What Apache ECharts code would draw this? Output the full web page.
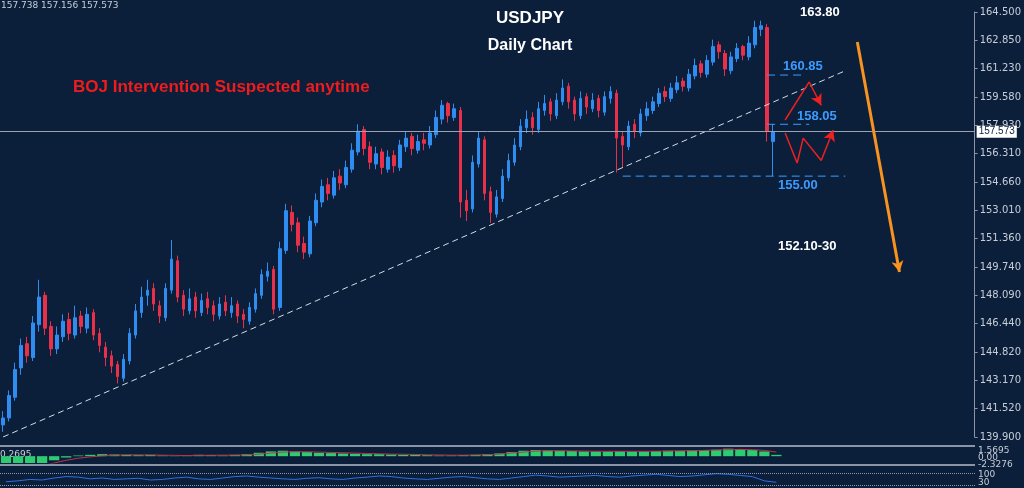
<!DOCTYPE html>
<html><head><meta charset="utf-8">
<script src="https://cdn.jsdelivr.net/npm/echarts@6/dist/echarts.min.js"></script>
<style>html,body{margin:0;padding:0;background:#0b1f3b}#c{width:1024px;height:488px}</style>
</head><body><div id="c"></div>
<script>
// [open, close, low, high]
const candles = [
[140.6,141.0,140.2,141.4],[141.0,142.3,140.8,142.6],[142.2,143.8,142.0,144.2],[143.9,145.2,143.5,145.6],[145.3,144.6,144.2,145.7],
[144.5,146.5,144.3,146.9],[146.4,148.0,146.0,149.0],[148.1,146.2,145.8,148.3],[146.3,145.0,144.6,146.6],[145.0,145.8,144.7,146.3],
[145.7,146.6,145.4,147.0],[146.7,145.9,145.5,147.1],[145.8,146.8,145.6,147.5],[146.9,146.3,145.9,147.2],[146.2,147.0,145.9,147.4],
[147.1,145.8,145.5,147.3],[145.9,145.2,144.8,146.2],[145.1,144.5,144.0,145.4],[144.6,144.0,143.6,144.9],[144.1,143.4,143.0,144.3],
[143.3,144.4,143.1,144.7],[144.3,145.9,144.1,146.2],[145.8,147.2,145.6,147.6],[147.1,148.0,146.8,148.6],[148.1,148.4,147.5,149.0],
[148.5,147.6,147.2,148.8],[147.5,146.9,146.5,147.8],[146.8,148.5,146.6,148.8],[148.4,150.2,148.2,151.3],[150.1,148.0,147.7,150.4],
[148.1,147.3,146.9,148.4],[147.2,147.9,147.0,148.5],[148.0,147.2,146.8,148.3],[147.1,147.8,146.9,148.2],[147.9,147.4,147.0,148.3],
[147.5,147.0,146.6,147.8],[146.9,147.6,146.7,148.0],[147.7,147.2,146.9,148.1],[147.1,147.5,146.8,148.0],[147.6,146.9,146.5,147.8],
[147.0,146.7,146.2,147.3],[146.6,147.4,146.4,147.7],[147.3,148.2,147.1,148.5],[148.1,149.3,147.9,149.6],[149.2,149.5,148.9,150.0],
[149.6,147.3,147.0,149.8],[147.4,150.8,147.2,151.2],[150.7,153.0,150.5,153.4],[152.9,152.2,151.8,153.3],[152.3,151.0,150.6,152.6],
[151.1,150.6,150.2,151.5],[150.5,152.4,150.3,152.7],[152.3,153.6,152.1,154.0],[153.5,154.4,153.2,154.8],[154.5,154.0,153.6,154.9],
[153.9,154.9,153.7,155.3],[155.0,154.6,154.2,155.4],[154.5,155.5,154.3,155.9],[155.4,156.5,155.2,156.9],[156.4,157.6,156.2,158.0],
[157.7,156.6,156.2,157.9],[156.7,155.8,155.4,157.0],[155.7,156.3,155.4,156.7],[156.4,155.5,155.1,156.6],[155.4,156.1,155.2,156.5],
[156.2,155.6,155.2,156.5],[155.5,156.8,155.3,157.1],[156.7,157.2,156.4,157.6],[157.3,156.6,156.2,157.5],[156.5,157.0,156.3,157.4],
[157.1,156.9,156.5,157.5],[156.8,157.5,156.6,157.9],[157.4,158.4,157.2,158.8],[158.3,159.1,158.0,159.4],[159.2,158.5,158.1,159.3],
[158.4,158.9,158.2,159.2],[158.8,153.5,152.6,159.0],[153.6,153.0,152.4,154.2],[153.1,155.8,152.9,156.2],[155.7,157.2,155.5,157.6],
[157.1,154.0,153.6,157.3],[154.1,152.9,152.3,154.4],[152.8,153.8,152.6,154.2],[153.7,155.0,153.5,155.4],[154.9,155.9,154.7,156.3],
[155.8,156.8,155.6,157.2],[156.7,157.9,156.5,158.3],[157.8,158.3,157.5,158.8],[158.4,157.8,157.4,158.7],[157.7,158.9,157.5,159.3],
[158.8,159.2,158.5,159.7],[159.3,158.6,158.2,159.5],[158.5,159.4,158.3,159.8],[159.3,160.1,159.1,160.6],[160.2,159.3,158.9,160.4],
[159.4,158.6,158.2,159.6],[158.5,159.5,158.3,159.9],[159.6,159.0,158.6,159.8],[158.9,159.4,158.7,159.8],[159.5,158.8,158.4,159.7],
[158.7,159.6,158.5,159.9],[159.5,159.9,159.2,160.2],[159.8,157.2,155.2,160.0],[157.3,156.8,155.5,157.6],[156.7,157.9,156.5,158.2],
[158.0,157.6,157.2,158.3],[157.5,158.6,157.3,158.9],[158.5,158.9,158.2,159.3],[158.8,159.3,158.6,159.6],[159.2,159.8,159.0,160.1],
[159.9,159.6,159.3,160.2],[159.5,160.1,159.3,160.4],[160.0,160.4,159.8,160.8],[160.5,160.2,159.9,160.7],[160.1,160.9,159.9,161.2],
[160.8,161.4,160.6,161.8],[161.5,161.0,160.7,161.7],[160.9,161.7,160.7,162.0],[161.6,162.5,161.4,162.9],[162.6,162.2,161.8,162.8],
[162.1,161.2,160.8,162.3],[161.1,161.9,160.9,162.2],[161.8,162.4,161.6,162.7],[162.5,162.0,161.7,162.6],[161.9,162.7,161.7,163.1],
[162.6,163.6,162.4,164.0],[163.5,163.7,163.1,164.0],[163.6,157.6,157.0,163.8],[157.0,157.573,155.0,158.0]
];
const totalSlots = 162;
const tickLabels = ['139.900','141.520','143.170','144.820','146.440','148.090','149.740','151.360','153.010','154.660','156.310','157.930','159.580','161.230','162.850','164.500'];
const lastPrice = 157.573;
const trendLine = [[0,139.9],[140,161.1]];
const upPath = [[130.3,158.25],[133.7,160.45],[136.2,159.1]];
const downPath = [[129.7,157.5],[131.5,155.76],[133.3,157.2],[135.8,155.9],[137.8,157.67]];
const orangeArrow = [[142,162.76],[149,149.45]];
const levels = [{v:160.85,from:127,to:133},{v:158.0,from:127,to:133.5},{v:155.0,from:103,to:140}];
const histVals = [-2.0,-1.8,-1.4,-1.0,-0.6,-0.2,0.1,0.2,0.3,0.25,0.2,0.15,0.2,0.1,0.05,0.1,0.2,0.15,0.1,0.2,0.3,0.5,0.7,0.8,0.7,0.6,0.5,0.45,0.4,0.35,0.3,0.3,0.25,0.2,0.2,0.15,0.1,0.1,0.15,0.2,0.3,0.4,0.6,0.8,0.9,0.85,0.8,0.75,0.7,0.7,0.7,0.75,0.7,0.7,0.75,0.8,0.8,0.85,0.9,0.95,1.1,1.05,0.9,0.7,0.2];
const sigVals = [-1.9,-1.85,-1.7,-1.4,-1.0,-0.6,-0.3,-0.1,0.05,0.15,0.2,0.2,0.18,0.15,0.12,0.1,0.12,0.14,0.15,0.15,0.2,0.3,0.45,0.6,0.65,0.65,0.6,0.55,0.5,0.45,0.4,0.35,0.3,0.28,0.25,0.2,0.18,0.15,0.15,0.18,0.22,0.3,0.45,0.6,0.75,0.8,0.8,0.78,0.75,0.72,0.72,0.72,0.72,0.72,0.73,0.75,0.78,0.8,0.85,0.9,0.95,1.0,0.95,0.85,0.6];
const rsiVals = [42,45,50,48,55,60,58,52,55,50,52,54,48,50,55,58,52,50,55,60,62,58,55,52,50,54,56,52,50,55,58,62,60,55,52,50,54,58,60,56,52,50,55,60,65,62,58,60,62,64,60,58,62,65,68,64,60,62,66,70,68,64,60,45,40];

const cats = Array.from({length: totalSlots}, (_, i) => String(i));
const subCats = Array.from({length: 81}, (_, i) => String(i));
const chart = echarts.init(document.getElementById('c'));
const blue = '#3d9bff', up = '#2f8cf0', down = '#e8304a';
const arrowLine = (pts, color, w) => ({type:'line', data:pts.slice(0,-1), symbol:'none', lineStyle:{color, width:w}, silent:true,
  markLine:{silent:true, symbol:['none','arrow'], symbolSize:[9,11], lineStyle:{color, width:w, type:'solid'}, label:{show:false},
    data:[[{coord:pts[pts.length-2]},{coord:pts[pts.length-1]}]]}});
chart.setOption({
  backgroundColor:'#0b1f3b',
  animation:false,
  grid:[
    {left:0,right:49,top:12,bottom:51},
    {left:0,right:49,top:448,height:15,show:false},
    {left:0,right:49,top:468,height:20,show:false}
  ],
  xAxis:[
    {type:'category',data:cats,gridIndex:0,boundaryGap:true,show:false},
    {type:'category',data:subCats,gridIndex:1,show:false},
    {type:'category',data:subCats,gridIndex:2,show:false}
  ],
  yAxis:[
    {type:'value',gridIndex:0,position:'right',min:139.9,max:164.5,interval:1.64,
     axisLine:{show:true,lineStyle:{color:'#8a94a6'}},axisTick:{show:true,length:3,lineStyle:{color:'#8a94a6'}},
     splitLine:{show:false},axisLabel:{color:'#c8cdd6',fontSize:10,fontFamily:'DejaVu Sans',margin:5,formatter:(v,i)=>tickLabels[i]}},
    {type:'value',gridIndex:1,position:'right',min:-1.0,max:1.2,show:false},
    {type:'value',gridIndex:2,position:'right',min:20,max:90,show:false}
  ],
  series:[
    {type:'candlestick',data:candles,barWidth:3,xAxisIndex:0,yAxisIndex:0,
     itemStyle:{color:up,color0:down,borderColor:up,borderColor0:down,borderWidth:1},
     markLine:{silent:true,symbol:'none',data:[{yAxis:lastPrice}],lineStyle:{color:'#9aa3b2',type:'solid',width:1},
       label:{position:'end',formatter:'157.573',color:'#0b1f3b',backgroundColor:'#ffffff',fontSize:10,padding:[1,2],distance:2}}},
    {type:'line',data:trendLine,symbol:'none',lineStyle:{color:'#d8dce4',width:1,type:[6,4]},silent:true},
    ...levels.map(l=>({type:'line',data:[[l.from,l.v],[l.to,l.v]],symbol:'none',lineStyle:{color:blue,width:1,type:[8,5]},silent:true})),
    arrowLine(upPath,'#ee2020',1.5),
    arrowLine(downPath,'#ee2020',1.5),
    arrowLine(orangeArrow,'#f7931e',3),
    {type:'bar',data:histVals,xAxisIndex:1,yAxisIndex:1,barCategoryGap:'15%',itemStyle:{color:'#2ecc71'}},
    {type:'line',data:sigVals,xAxisIndex:1,yAxisIndex:1,symbol:'none',lineStyle:{color:'#c0304a',width:1}},
    {type:'line',data:rsiVals,xAxisIndex:2,yAxisIndex:2,symbol:'none',lineStyle:{color:'#2f6fe0',width:1},
     markLine:{silent:true,symbol:'none',label:{show:false},lineStyle:{color:'#8a94a6',type:'dotted'},data:[{yAxis:70},{yAxis:30}]}}
  ],
  graphic:[
    {type:'line',shape:{x1:0,y1:446,x2:975,y2:446},style:{stroke:'#8a94a6',lineWidth:2}},
    {type:'line',shape:{x1:0,y1:465,x2:975,y2:465},style:{stroke:'#8a94a6',lineWidth:2}},
    {type:'text',left:1,top:1,style:{text:'157.738 157.156 157.573',fill:'#c8cdd6',font:'9px DejaVu Sans'}},
    {type:'text',left:0,top:450,style:{text:'0.2695',fill:'#c8cdd6',font:'9px DejaVu Sans'}},
    {type:'text',left:978,top:446,style:{text:'1.5695\n0.00\n-2.3276',fill:'#c8cdd6',font:'9px DejaVu Sans',lineHeight:7}},
    {type:'text',left:978,top:470,style:{text:'100\n30',fill:'#c8cdd6',font:'9px DejaVu Sans',lineHeight:8}},
    {type:'text',x:530,y:18,style:{text:'USDJPY',fill:'#ffffff',font:'bold 17px Liberation Sans',align:'center',verticalAlign:'middle'}},
    {type:'text',x:530,y:46,style:{text:'Daily Chart',fill:'#ffffff',font:'bold 16px Liberation Sans',align:'center',verticalAlign:'middle'}},
    {type:'text',x:73,y:87,style:{text:'BOJ Intervention Suspected anytime',fill:'#ee1c1c',font:'bold 17px Liberation Sans',verticalAlign:'middle'}},
    {type:'text',x:800,y:12,style:{text:'163.80',fill:'#ffffff',font:'bold 13px Liberation Sans',verticalAlign:'middle'}},
    {type:'text',x:783,y:66,style:{text:'160.85',fill:blue,font:'bold 13px Liberation Sans',verticalAlign:'middle'}},
    {type:'text',x:797,y:116,style:{text:'158.05',fill:blue,font:'bold 13px Liberation Sans',verticalAlign:'middle'}},
    {type:'text',x:778,y:185,style:{text:'155.00',fill:blue,font:'bold 13px Liberation Sans',verticalAlign:'middle'}},
    {type:'text',x:778,y:246,style:{text:'152.10-30',fill:'#ffffff',font:'bold 13px Liberation Sans',verticalAlign:'middle'}}
  ]
});
</script></body></html>
